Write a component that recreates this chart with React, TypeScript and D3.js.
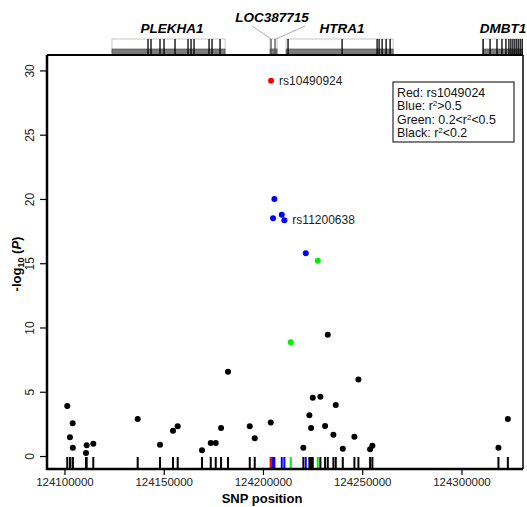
import React, { useEffect, useRef } from 'react';
import * as d3 from 'd3';

// SNP positions (bp), -log10(P) and LD class
const snpPos = [
  124101400, 124102770, 124104130, 124104200, 124110840, 124111190, 124114520,
  124136890, 124148130, 124154680, 124157050, 124169300, 124173690, 124176210,
  124178880, 124182400, 124193340, 124195860, 124203920, 124204080, 124205080,
  124205740, 124209470, 124210780, 124214000, 124220350, 124221560, 124223380,
  124224240, 124225090, 124227610, 124228920, 124231290, 124232650, 124235480,
  124236680, 124240210, 124246060, 124248080, 124253970, 124255130, 124318630,
  124323370,
];
const snpLogP = [
  3.9, 1.46, 2.55, 0.65, 0.23, 0.83, 0.96,
  2.88, 0.88, 1.97, 2.31, 0.44, 1.01, 1.01,
  2.18, 6.55, 2.31, 1.38, 2.6, 29.2, 18.5,
  20.0, 18.78, 18.34, 8.86, 0.65, 15.77, 3.17,
  2.18, 4.54, 15.2, 4.62, 2.34, 9.43, 1.66,
  3.97, 0.57, 1.5, 5.95, 0.52, 0.8, 0.65,
  2.88,
];
const snpClass = [
  'k', 'k', 'k', 'k', 'k', 'k', 'k',
  'k', 'k', 'k', 'k', 'k', 'k', 'k',
  'k', 'k', 'k', 'k', 'k', 'r', 'b',
  'b', 'b', 'b', 'g', 'k', 'b', 'k',
  'k', 'k', 'g', 'k', 'k', 'k', 'k',
  'k', 'k', 'k', 'k', 'k', 'k', 'k',
  'k',
];
const snpLabels = [
  { pos: 124204080, logP: 29.2, text: 'rs10490924' },
  { pos: 124210780, logP: 18.34, text: 'rs11200638' },
];

// genes
const geneNames = ['PLEKHA1', 'LOC387715', 'HTRA1', 'DMBT1'];
const geneStart = [124123940, 124203570, 124211640, 124310900];
const geneEnd = [124180900, 124207100, 124265570, 124345000];
const geneExons = [
  [124142080, 124143600, 124148130, 124150150, 124155700, 124162240, 124163760,
    124165270, 124172830, 124174340, 124178370],
  [124204070, 124206080],
  [124212640, 124239860, 124257500, 124258510, 124260020, 124262040, 124264050],
  [124310900, 124314400, 124317900, 124320400, 124322400, 124323900, 124324900,
    124325900, 124326900, 124327900, 124328900, 124329900, 124330900],
];

const xTicks = [124100000, 124150000, 124200000, 124250000, 124300000];
const yTicks = [0, 5, 10, 15, 20, 25, 30];

const colorMap: Record<string, string> = { r: '#ff0000', b: '#0000ff', g: '#00ee00', k: '#000000' };

function App() {
  const svgRef = useRef<SVGSVGElement>(null);

  useEffect(() => {
    const svg = d3.select(svgRef.current);
    svg.selectAll('*').remove();

    const width = 527;
    const height = 507;
    const margin = { top: 55, right: 4, bottom: 38, left: 47 };
    const font = 'Liberation Sans, Arial, sans-serif';

    const x = d3.scaleLinear().domain([124091200, 124331000]).range([margin.left, width - margin.right]);
    const y = d3.scaleLinear().domain([-1.01, 31.2]).range([height - margin.bottom, margin.top]);

    const plotBottom = height - margin.bottom;
    const plotRight = width - margin.right;

    svg.append('defs').append('clipPath').attr('id', 'gclip')
      .append('rect').attr('x', margin.left).attr('y', 0)
      .attr('width', plotRight - margin.left).attr('height', margin.top + 2);

    // gene track
    const track = svg.append('g').attr('clip-path', 'url(#gclip)');
    const boxTop = margin.top - 16;
    geneNames.forEach((name, i) => {
      const x0 = x(geneStart[i]);
      const x1 = x(geneEnd[i]);
      track.append('rect')
        .attr('x', x0).attr('y', boxTop).attr('width', x1 - x0).attr('height', 16)
        .attr('fill', 'none').attr('stroke', '#c8c8c8').attr('stroke-width', 1);
      track.append('rect')
        .attr('x', x0).attr('y', margin.top - 6).attr('width', x1 - x0).attr('height', 6)
        .attr('fill', '#7a7a7a').attr('stroke', '#444').attr('stroke-width', 0.6);
      geneExons[i].forEach(e => {
        track.append('line')
          .attr('x1', x(e)).attr('x2', x(e))
          .attr('y1', boxTop).attr('y2', margin.top)
          .attr('stroke', name === 'LOC387715' ? '#555' : '#000').attr('stroke-width', 1.3);
      });
    });

    // gene labels
    const labelX = [172, 272, 342, 503];
    const labelY = [33, 22, 33, 33];
    geneNames.forEach((name, i) => {
      svg.append('text')
        .attr('x', labelX[i]).attr('y', labelY[i])
        .attr('text-anchor', 'middle')
        .style('font-family', font).style('font-size', '13.5px')
        .style('font-weight', 'bold').style('font-style', 'italic')
        .text(name);
    });
    // connectors for LOC387715
    svg.append('line').attr('x1', 252).attr('y1', 26).attr('x2', x(geneStart[1]) + 1).attr('y2', boxTop)
      .attr('stroke', '#999').attr('stroke-width', 0.8);
    svg.append('line').attr('x1', 305).attr('y1', 26).attr('x2', x(geneEnd[1]) - 1).attr('y2', boxTop)
      .attr('stroke', '#999').attr('stroke-width', 0.8);

    // frame
    svg.append('line').attr('x1', margin.left).attr('x2', plotRight)
      .attr('y1', margin.top).attr('y2', margin.top).attr('stroke', '#000').attr('stroke-width', 2);
    svg.append('line').attr('x1', plotRight).attr('x2', plotRight)
      .attr('y1', margin.top).attr('y2', plotBottom).attr('stroke', '#000').attr('stroke-width', 1.5);

    // rug
    svg.append('g').selectAll('line')
      .data(snpPos)
      .enter()
      .append('line')
      .attr('x1', d => x(d)).attr('x2', d => x(d))
      .attr('y1', plotBottom).attr('y2', plotBottom - 12)
      .attr('stroke', (_, i) => colorMap[snpClass[i]])
      .attr('stroke-width', 2);

    // points (black first, then colored on top)
    const order = d3.range(snpPos.length).sort((a, b) => (snpClass[a] === 'k' ? 0 : 1) - (snpClass[b] === 'k' ? 0 : 1));
    svg.append('g').selectAll('circle')
      .data(order)
      .enter()
      .append('circle')
      .attr('cx', i => x(snpPos[i]))
      .attr('cy', i => y(snpLogP[i]))
      .attr('r', 3)
      .attr('fill', i => colorMap[snpClass[i]]);

    snpLabels.forEach(l => {
      svg.append('text')
        .attr('x', x(l.pos) + 8).attr('y', y(l.logP) + 4)
        .style('font-family', font).style('font-size', '12px').style('fill', '#222')
        .text(l.text);
    });

    // X axis
    const xAxis = svg.append('g')
      .attr('transform', `translate(0,${plotBottom})`)
      .call(d3.axisBottom(x).tickValues(xTicks).tickFormat(d3.format('d')).tickSize(6).tickSizeOuter(0));
    xAxis.select('.domain').attr('stroke-width', 2.5).attr('d', `M${margin.left - 1},0H${plotRight}`);
    xAxis.selectAll('.tick line').attr('stroke-width', 1.2);
    xAxis.selectAll('text').style('font-family', font).style('font-size', '11.5px').style('fill', '#222').attr('y', 8).attr('dy', '0.8em');

    svg.append('text')
      .attr('x', 262).attr('y', 503)
      .attr('text-anchor', 'middle')
      .style('font-family', font).style('font-size', '13px').style('font-weight', 'bold')
      .text('SNP position');

    // Y axis
    const yAxis = svg.append('g')
      .attr('transform', `translate(${margin.left},0)`)
      .call(d3.axisLeft(y).tickValues(yTicks).tickSize(7).tickSizeOuter(0));
    yAxis.select('.domain').attr('stroke-width', 2.5).attr('d', `M0,${margin.top}V${plotBottom + 1}`);
    yAxis.selectAll('.tick line').attr('stroke-width', 1.2);
    yAxis.selectAll('.tick text')
      .attr('x', 0).attr('dy', 0)
      .attr('transform', 'translate(-13,0) rotate(-90)')
      .attr('text-anchor', 'middle')
      .style('font-family', font).style('font-size', '12px').style('fill', '#222');

    const yTitle = svg.append('text')
      .attr('transform', 'translate(21,264) rotate(-90)')
      .attr('text-anchor', 'middle')
      .style('font-family', font).style('font-size', '13px').style('font-weight', 'bold');
    yTitle.append('tspan').text('-log');
    yTitle.append('tspan').attr('dy', 3).style('font-size', '9px').text('10');
    yTitle.append('tspan').attr('dy', -3).text(' (');
    yTitle.append('tspan').style('font-style', 'italic').text('P');
    yTitle.append('tspan').text(')');

    // legend
    const lg = svg.append('g').attr('transform', 'translate(393,82)');
    lg.append('rect').attr('width', 121).attr('height', 60)
      .attr('fill', '#fff').attr('stroke', '#000').attr('stroke-width', 1);
    const legendLines = [
      ['Red: rs1049024'],
      ['Blue: r', '2', '>0.5'],
      ['Green: 0.2<r', '2', '<0.5'],
      ['Black: r', '2', '<0.2'],
    ];
    legendLines.forEach((parts, i) => {
      const t = lg.append('text')
        .attr('x', 4).attr('y', 14.5 + i * 13.6)
        .style('font-family', font).style('font-size', '12.4px').style('fill', '#111');
      parts.forEach((p, j) => {
        if (j === 1) {
          t.append('tspan').attr('dy', -4).style('font-size', '8px').text(p);
        } else if (j === 2) {
          t.append('tspan').attr('dy', 4).text(p);
        } else {
          t.append('tspan').text(p);
        }
      });
    });
  }, []);

  return (
    <svg ref={svgRef} width={527} height={507} style={{ display: 'block', position: 'absolute', left: 0, top: 0 }}></svg>
  );
}

export default App;
